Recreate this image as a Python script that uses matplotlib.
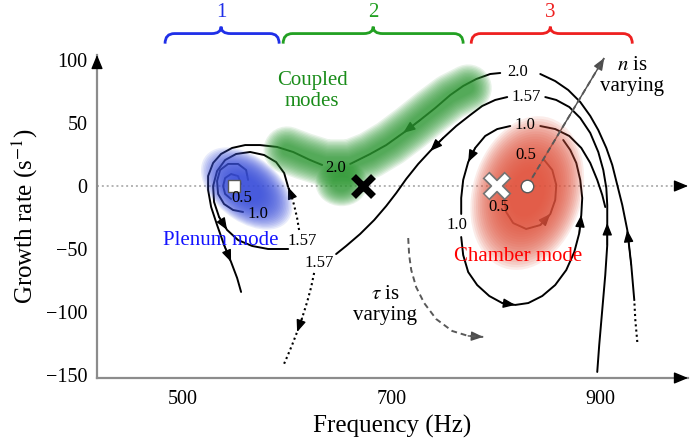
import numpy as np
import matplotlib.pyplot as plt
from matplotlib.patches import Ellipse, PathPatch
from matplotlib.path import Path

plt.rcParams['font.family'] = 'Liberation Serif'
plt.rcParams['mathtext.fontset'] = 'stix'

# axis ranges and ticks (Hz, 1/s)
x_range = (417.5, 984.0)
y_range = (-152.4, 104.0)
x_ticks = [500, 700, 900]
y_ticks = [-150, -100, -50, 0, 50, 100]

# eigenvalue paths (frequency, growth rate), listed in the direction of the arrows
traj_20_tail = [(935.4, -123.8), (933.5, -106.3), (932.5, -90.5)]
traj_20_a = [(932.5, -90.5), (929.6, -62.7), (925.8, -34.9), (921.0, -15.1), (916.2, 0.8),
             (911.4, 16.7), (905.7, 30.2), (898.0, 44.4), (890.3, 55.6), (880.7, 66.7),
             (869.2, 76.2), (856.7, 83.3), (842.4, 88.9)]
traj_20_b = [(804.0, 89.7), (794.4, 88.9), (781.0, 84.9), (768.5, 79.4), (756.1, 72.2),
             (741.7, 61.9), (727.3, 52.4), (711.0, 42.1), (694.7, 32.5), (679.3, 25.4),
             (660.2, 17.5)]
traj_20_c = [(633.3, 16.7), (621.8, 20.6), (605.5, 27.0), (590.1, 31.0), (573.8, 32.5),
             (559.5, 32.5), (547.0, 30.2), (536.4, 25.4), (528.8, 18.3), (524.0, 7.9),
             (524.0, -3.2), (526.9, -16.7), (532.6, -31.0), (539.3, -46.8), (546.0, -60.3),
             (551.8, -73.0), (555.6, -84.1)]
traj_157_a = [(897.0, -147.6), (898.9, -126.2), (901.8, -98.4), (904.7, -70.6), (906.6, -46.8),
              (906.6, -29.4), (906.6, -15.1), (905.7, -1.6), (902.8, 12.7), (898.0, 27.0),
              (890.3, 42.1), (880.7, 54.0), (870.2, 62.7), (857.7, 68.3), (847.2, 70.6)]
traj_157_b = [(810.7, 70.6), (799.2, 68.3), (786.7, 63.5), (775.2, 56.3), (761.8, 47.6),
              (749.3, 38.1), (736.9, 27.8), (725.4, 17.5), (713.9, 5.6), (704.3, -5.6),
              (694.7, -15.9), (683.2, -27.0), (669.7, -38.1), (656.3, -47.6), (646.7, -54.0)]
traj_157_c = [(625.6, -69.0), (622.8, -80.2), (618.9, -92.1), (614.1, -104.8), (609.3, -115.9),
              (604.5, -126.2), (599.7, -135.7), (595.9, -142.9)]
traj_p157_a = [(611.2, -34.9), (609.3, -25.4), (606.4, -15.1), (603.6, -7.1), (600.7, -0.8)]
traj_p157_b = [(600.7, -0.8), (596.9, 10.3), (589.2, 19.0), (577.7, 24.6), (564.3, 27.0),
               (550.8, 25.4), (540.3, 20.6), (532.6, 11.9), (528.8, 0.0), (529.7, -12.7),
               (534.5, -24.6), (542.2, -34.9), (552.7, -42.9), (566.2, -47.6), (581.5, -50.0),
               (600.7, -50.0)]
traj_10_r = [(842.4, 47.6), (856.7, 45.2), (870.2, 39.7), (881.7, 30.2), (890.3, 18.3),
             (897.0, 4.8), (901.8, -7.1), (904.7, -16.7)]
traj_10_l = [(813.6, 47.6), (801.1, 45.2), (789.6, 39.7), (780.0, 30.2), (773.3, 19.0),
             (768.5, 4.8), (766.6, -9.5), (766.6, -22.2)]
traj_10_b = [(766.6, -40.5), (768.5, -54.8), (773.3, -68.3), (781.9, -78.6), (793.5, -87.3),
             (805.9, -92.9), (818.4, -94.4), (830.9, -92.9), (844.3, -87.3), (856.7, -78.6),
             (867.3, -66.7), (875.0, -52.4), (879.8, -37.3), (881.7, -23.0), (882.6, -9.5),
             (880.7, 4.8), (876.9, 18.3), (871.1, 28.6), (864.4, 36.5)]
traj_05 = [(807.8, -9.5), (809.7, -20.6), (816.4, -29.4), (828.9, -34.1), (842.4, -31.0),
           (852.0, -22.2), (856.7, -11.1), (857.7, 0.8), (853.9, 12.7), (846.2, 20.6)]
traj_p10 = [(562.3, 4.8), (560.4, 12.7), (552.7, 17.5), (543.2, 17.5), (535.5, 12.7),
            (532.6, 4.0), (533.6, -6.3), (539.3, -14.3), (547.9, -19.0), (557.5, -20.6)]
traj_p05 = [(555.6, 1.6), (552.7, 7.9), (546.0, 9.5), (540.3, 6.3), (538.4, 0.0),
            (540.3, -6.3), (546.0, -10.3)]

# n values written along the paths
n_labels = ['2.0', '2.0', '1.57', '1.57', '1.57', '1.0', '1.0', '0.5', '0.5', '0.5', '1.0']
n_label_x = [820.3, 646.7, 829.0, 630.4, 614.6, 828.0, 762.8, 829.0, 803.0, 556.0, 572.0]
n_label_y = [90.5, 14.3, 70.6, -61.1, -43.7, 48.4, -31.0, 24.6, -16.7, -9.5, -22.5]

# modes at n = 0 and the coupled mode
plenum_mode = (548.9, 0.0)
chamber_mode = (829.9, 0.0)
coupled_cross = (672.6, 0.0)
chamber_cross = (801.1, 0.0)

# dashed "parameter is varying" arrows
n_arrow = [(829.9, 0.0), (903.7, 101.6)]
tau_arrow = [(715.8, -41.3), (716.7, -54.8), (718.7, -66.7), (723.4, -80.2), (731.1, -92.9),
             (742.6, -105.6), (758.0, -115.1), (773.3, -119.0), (787.7, -119.8)]

# shaded regions
coupled_band = [(773.3, 77.8), (756.1, 70.6), (736.9, 58.7), (717.7, 46.0), (698.5, 34.1),
                (679.3, 24.6), (660.2, 18.3), (636.2, 18.3), (615.1, 23.8), (599.7, 28.6)]
region_labels = ['1', '2', '3']
region_spans = [(482.7, 536.4, 592.1), (595.9, 682.2, 768.5), (776.2, 852.0, 930.6)]
region_colors = ['#1f2fe8', '#22a022', '#ee2020']

BLUE = '#3d52dc'
GREEN = '#2f9a34'
RED = '#e2553f'


def line(ax, pts, **kw):
    a = np.array(pts)
    kw.setdefault('color', 'k')
    kw.setdefault('lw', 1.4)
    ax.plot(a[:, 0], a[:, 1], solid_capstyle='round', zorder=2, **kw)


def head(ax, pts, i, color='k', size=13):
    ax.annotate('', xy=pts[i], xytext=pts[i - 1],
                arrowprops=dict(arrowstyle='-|>,head_length=0.55,head_width=0.22',
                                color=color, lw=1.0, mutation_scale=size,
                                shrinkA=0, shrinkB=0), zorder=2)


def soft_ellipse(ax, center, w, h, angle, color, layers=22, alpha=0.11, step=0.033):
    # stacked translucent ellipses give a soft, airbrushed edge
    for k in range(layers):
        s = 1.0 - step * k
        ax.add_patch(Ellipse(center, w * s, h * s, angle=angle, facecolor=color,
                             edgecolor='none', alpha=alpha, zorder=3))


def brace(ax, x0, xm, x1, color):
    yb, yt, yp, r = 113.0, 121.0, 126.5, 9.0
    verts = [(x0, yb), (x0, yt), (x0 + r, yt), (xm - r, yt), (xm, yt), (xm, yp),
             (xm, yt), (xm + r, yt), (x1 - r, yt), (x1, yt), (x1, yb)]
    codes = [Path.MOVETO, Path.CURVE3, Path.CURVE3, Path.LINETO, Path.CURVE3, Path.CURVE3,
             Path.CURVE3, Path.CURVE3, Path.LINETO, Path.CURVE3, Path.CURVE3]
    ax.add_patch(PathPatch(Path(verts, codes), facecolor='none', edgecolor=color,
                           lw=2.0, clip_on=False))


fig = plt.figure(figsize=(6.9, 4.42), dpi=100)
ax = fig.add_axes([0.1406, 0.1448, 0.8565, 0.7308])
ax.set_xlim(*x_range)
ax.set_ylim(*y_range)

# axes with arrow heads
for side in ['top', 'right']:
    ax.spines[side].set_visible(False)
for side in ['left', 'bottom']:
    ax.spines[side].set_color('0.55')
    ax.spines[side].set_linewidth(1.6)
ax.set_xticks(x_ticks)
ax.set_yticks(y_ticks)
ax.tick_params(length=0, labelsize=14.5)
ax.tick_params(axis='x', pad=9)
ax.tick_params(axis='y', pad=7)
ax.set_xlabel('Frequency (Hz)', fontsize=18, labelpad=4)
ax.set_ylabel('Growth rate (s$^{-1}$)', fontsize=18, labelpad=4)
arrow_kw = dict(arrowstyle='-|>,head_length=0.6,head_width=0.25', color='k', lw=1.0,
                mutation_scale=14, shrinkA=0, shrinkB=0)
ax.annotate('', xy=(x_range[1], y_range[0]), xytext=(x_range[1] - 8, y_range[0]),
            arrowprops=arrow_kw, annotation_clip=False)
ax.annotate('', xy=(x_range[0], y_range[1]), xytext=(x_range[0], y_range[1] - 8),
            arrowprops=arrow_kw, annotation_clip=False)

# zero growth line
ax.plot(x_range, [0, 0], color='0.7', lw=1.4, ls=(0, (1, 1.5)), zorder=1)
ax.annotate('', xy=(x_range[1], 0), xytext=(x_range[1] - 8, 0),
            arrowprops=arrow_kw, annotation_clip=False)

# trajectories
line(ax, traj_20_tail, ls=(0, (1, 1.5)), lw=1.5)
for seg in [traj_20_a, traj_20_b, traj_20_c, traj_157_a, traj_157_b, traj_p157_b,
            traj_10_r, traj_10_l, traj_10_b, traj_05, traj_p10, traj_p05]:
    line(ax, seg)
line(ax, traj_157_c, ls=(0, (1, 1.5)), lw=1.5)
line(ax, traj_p157_a, ls=(0, (1, 1.5)), lw=1.5)

head(ax, traj_20_a, 2)
head(ax, traj_20_b, 7)
head(ax, traj_20_c, 14)
head(ax, traj_157_a, 5)
head(ax, traj_157_b, 6)
head(ax, traj_157_c, 4)
head(ax, traj_p157_a, 4)
head(ax, traj_p157_b, 11)
head(ax, traj_10_l, 4)
head(ax, traj_10_b, 6)
head(ax, traj_10_b, 13)
head(ax, traj_05, 5)

# shaded mode regions
soft_ellipse(ax, (561.0, -2.0), 95, 54, -28, BLUE)
soft_ellipse(ax, (829.9, -5.6), 128, 102, 60, RED)
band = np.array(coupled_band)
for lw in range(34, 6, -2):
    ax.plot(band[:, 0], band[:, 1], color=GREEN, alpha=0.11, lw=lw,
            solid_capstyle='round', solid_joinstyle='round', zorder=3)
soft_ellipse(ax, (652.0, 2.0), 50, 36, 0, GREEN, layers=14, alpha=0.11, step=0.05)

# dashed parameter arrows
na = np.array(n_arrow)
ax.plot(na[:, 0], na[:, 1], color='0.35', lw=1.4, ls=(0, (3, 2)), zorder=4)
head(ax, n_arrow, 1, color='0.3')
ta = np.array(tau_arrow)
ax.plot(ta[:, 0], ta[:, 1], color='0.35', lw=1.4, ls=(0, (3, 2)), zorder=4)
head(ax, tau_arrow, len(tau_arrow) - 1, color='0.3')

# mode markers
ax.plot(*plenum_mode, marker='s', ms=9, mfc='white', mec='0.35', mew=1, zorder=5)
ax.plot(*chamber_mode, marker='o', ms=9, mfc='white', mec='0.35', mew=1, zorder=5)
ax.plot(*coupled_cross, marker='x', ms=15, mew=5, color='k', zorder=5)
ax.plot(*chamber_cross, marker='x', ms=16, mew=7, color='0.45', zorder=5)
ax.plot(*chamber_cross, marker='x', ms=15, mew=4.5, color='white', zorder=5)

# n labels
for txt, x, y in zip(n_labels, n_label_x, n_label_y):
    ax.text(x, y, txt, fontsize=12, ha='center', va='center', zorder=6)

ax.text(623.7, 75.4, 'Coupled\nmodes', color='#1a8c1a', fontsize=15, ha='center',
        va='center', linespacing=1.1, zorder=6)
ax.text(536.4, -42.9, 'Plenum mode', color='#1515ff', fontsize=15, ha='center',
        va='center', zorder=6)
ax.text(821.3, -55.6, 'Chamber mode', color='#ff0000', fontsize=15, ha='center',
        va='center', zorder=6)
ax.text(930.6, 87.3, '$n$ is\nvarying', fontsize=15, ha='center', va='center',
        linespacing=1.1, zorder=6)
ax.text(693.7, -94.4, '$\\tau$ is\nvarying', fontsize=15, ha='center', va='center',
        linespacing=1.1, zorder=6)

# region braces above the plot
for lab, (x0, xm, x1), col in zip(region_labels, region_spans, region_colors):
    brace(ax, x0, xm, x1, col)
    ax.text(xm, 138.0, lab, color=col, fontsize=15, ha='center', va='center', clip_on=False)

fig.savefig('out.png', dpi=100)
